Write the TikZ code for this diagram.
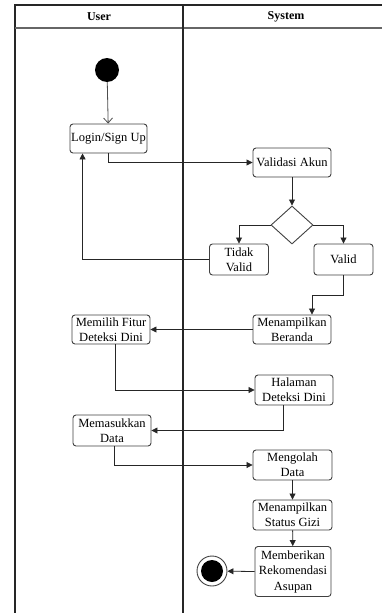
\documentclass[tikz,border=0pt]{standalone}
\usepackage{fontspec}
\setmainfont{Liberation Serif}
\usetikzlibrary{arrows.meta}
\usetikzlibrary{shapes.geometric}
\definecolor{boxgrey}{rgb}{0.25, 0.25, 0.25}
\definecolor{laneline}{rgb}{0.15, 0.15, 0.15}

\begin{document}
\begin{tikzpicture}[x=1pt, y=-1pt,
	activity/.style={draw=boxgrey, line width=0.9pt, rounded corners=3pt, fill=white, align=center, inner sep=1pt,
		font=\fontsize{12.5}{15}\selectfont},
	decision/.style={draw=boxgrey, line width=0.9pt, diamond, inner sep=0pt, minimum width=42pt, minimum height=38pt},
	flow/.style={draw=black!85, line width=0.8pt, -{Triangle[length=6pt, width=6pt]}},
	lanehead/.style={font=\fontsize{12}{14}\selectfont\bfseries}]
	\useasboundingbox (0,0) rectangle (382,613);

	% swimlanes
	\draw[line width=1.4pt, laneline] (382,5) -- (15,5) -- (15,613);
	\draw[line width=1.2pt, black!60] (15,28) -- (382,28);
	\draw[line width=1.8pt, laneline] (183,5) -- (183,613);
	\node[lanehead] (user) at (99,17) {User};
	\node[lanehead] (system) at (286,17) {System};

	% start / end
	\node[circle, fill=black, minimum size=24pt, inner sep=0pt] (start) at (107,70) {};
	\node[circle, draw=boxgrey, line width=0.9pt, fill=white, minimum size=30pt, inner sep=0pt,
		path picture={\fill[black] (path picture bounding box.center) circle (11pt);}] (end) at (212,571) {};

	% activities
	\node[activity, minimum width=77pt, minimum height=29pt] (login) at (108.5,138.5) {Login/Sign Up};
	\node[activity, minimum width=78pt, minimum height=29pt] (validasi) at (292,162.5) {Validasi Akun};
	\node[decision] (cek) at (292,225) {};
	\node[activity, minimum width=59pt, minimum height=31pt] (tidak) at (239,259.5) {Tidak\\Valid};
	\node[activity, minimum width=59pt, minimum height=31pt] (valid) at (343.5,259.5) {Valid};
	\node[activity, minimum width=78pt, minimum height=29pt] (beranda) at (292,329.5) {Menampilkan\\Beranda};
	\node[activity, minimum width=78pt, minimum height=29pt] (fitur) at (111,329.5) {Memilih Fitur\\Deteksi Dini};
	\node[activity, minimum width=78pt, minimum height=30pt] (halaman) at (294,390) {Halaman\\Deteksi Dini};
	\node[activity, minimum width=78pt, minimum height=31pt] (masuk) at (112,430.5) {Memasukkan\\Data};
	\node[activity, minimum width=79pt, minimum height=30pt] (olah) at (292.5,465) {Mengolah\\Data};
	\node[activity, minimum width=79pt, minimum height=30pt] (status) at (292.5,515) {Menampilkan\\Status Gizi};
	\node[activity, minimum width=76pt, minimum height=50pt, font=\fontsize{12.5}{15.5}\selectfont] (rekom) at (293,571.5) {Memberikan\\Rekomendasi\\Asupan};

	% flows
	\draw[draw=black!70, line width=0.8pt, -{Straight Barb[length=5pt, width=9pt]}] (start) -- (login);
	\draw[flow] (login.south) |- (validasi.west);
	\draw[flow] (validasi) -- (cek);
	\draw[flow] (cek.west) -| (tidak.north);
	\draw[flow] (cek.east) -| (valid.north);
	\draw[flow] (tidak.west) -| ([xshift=13pt]login.south west);
	\draw[flow] (valid.south) -- ++(0,20) -| ([xshift=20pt]beranda.north);
	\draw[flow] (beranda.west) -- (fitur.east);
	\draw[flow] ([xshift=4pt]fitur.south) |- (halaman.west);
	\draw[flow] ([xshift=-11pt]halaman.south) |- (masuk.east);
	\draw[flow] ([xshift=2pt]masuk.south) |- (olah.west);
	\draw[flow] (olah) -- (status);
	\draw[flow] (status) -- (rekom);
	\draw[flow] (rekom.west) -- (end);
\end{tikzpicture}
\end{document}
